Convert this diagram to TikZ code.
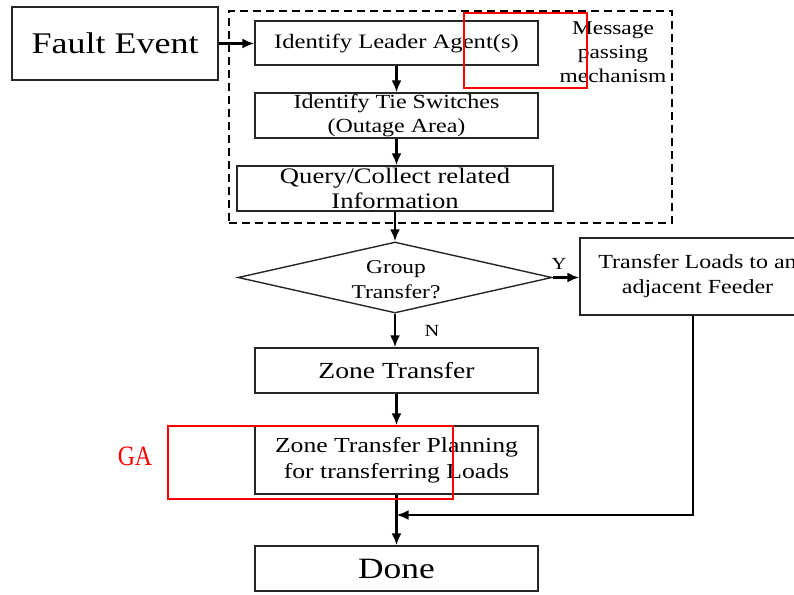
\documentclass[tikz,border=0pt]{standalone}
\usepackage{fontspec}
\setmainfont{Liberation Serif}[FakeStretch=1.2]
\newfontfamily\gafont{Liberation Serif}[FakeStretch=0.85]
\usetikzlibrary{arrows.meta,shapes.geometric}
\begin{document}
\begin{tikzpicture}[x=1pt,y=-1pt,
  box/.style={draw=black!85, line width=1.4pt, rectangle, inner sep=0pt, align=center},
  arr/.style={line width=2.8pt, -{Latex[length=12pt,width=10pt]}},
  redbox/.style={draw=red, line width=2.6pt, rectangle, inner sep=0pt},
  lbl/.style={inner sep=0pt, align=center}]
\useasboundingbox (0,0) rectangle (794,594);

% dashed group
\node[draw, dash pattern=on 8pt off 5pt, line width=2.6pt, minimum width=443pt, minimum height=212pt, inner sep=0pt] (grp) at (450.5,117) {};

\node[box, minimum width=206pt, minimum height=73pt, font=\fontsize{30}{36}\selectfont] (fe) at (115,43.5) {Fault Event};
\node[box, minimum width=283pt, minimum height=44pt, font=\fontsize{20.5}{24}\selectfont] (ld) at (396.5,43) {Identify Leader Agent(s)};
\node[box, minimum width=283pt, minimum height=45pt, font=\fontsize{20}{24}\selectfont] (tie) at (396.5,115.5) {Identify Tie Switches\\(Outage Area)};
\node[box, minimum width=316pt, minimum height=45pt, font=\fontsize{22.2}{25}\selectfont] (q) at (395,188.5) {Query/Collect related\\Information};
\node[lbl, font=\fontsize{19.5}{24}\selectfont] (msg) at (613,52) {Message\\passing\\mechanism};

\node[diamond, draw=black!85, line width=1.4pt, minimum width=314pt, minimum height=71pt, inner sep=0pt] (dia) at (395,277.5) {};
\node[lbl, font=\fontsize{19.5}{25}\selectfont] (diat) at (396,280) {Group\\Transfer?};
\node[lbl, font=\fontsize{17}{20}\selectfont] (y) at (559,264) {Y};
\node[lbl, font=\fontsize{17}{20}\selectfont] (n) at (432,331) {N};

\node[box, minimum width=235pt, minimum height=77pt, font=\fontsize{20}{25}\selectfont] (tl) at (697.5,276.5) {Transfer Loads to an\\adjacent Feeder};
\node[box, minimum width=283pt, minimum height=45pt, font=\fontsize{23}{27}\selectfont] (zt) at (396.5,370.5) {Zone Transfer};
\node[box, minimum width=283pt, minimum height=68pt, font=\fontsize{21.4}{26}\selectfont] (pl) at (396.5,460) {Zone Transfer Planning\\for transferring Loads};
\node[box, minimum width=283pt, minimum height=45pt, font=\fontsize{29.5}{34}\selectfont] (dn) at (396.5,568.5) {Done};

\coordinate (mg) at (396.5,515);

% connectors
\draw[arr] (fe.east) -- (fe.east -| ld.west);
\draw[arr] (ld.south) -- (tie.north);
\draw[arr] (tie.south) -- (tie.south |- q.north);
\draw[arr] (q.south) -- (dia.north);
\draw[arr] (dia.east) -- (dia.east -| tl.west);
\draw[arr] (dia.south) -- (dia.south |- zt.north);
\draw[arr] (zt.south) -- (pl.north);
\draw[arr] (pl.south) -- (dn.north);
\draw[arr] ([xshift=-4.5pt]tl.south) |- (mg);

% red annotations
\node[redbox, minimum width=123pt, minimum height=75pt] (r1) at (525.5,50.5) {};
\node[redbox, minimum width=285pt, minimum height=73pt] (r2) at (310.5,462.5) {};
\node[lbl, text=red, font=\gafont\fontsize{28}{30}\selectfont] (ga) at (135,456) {GA};
\end{tikzpicture}
\end{document}
